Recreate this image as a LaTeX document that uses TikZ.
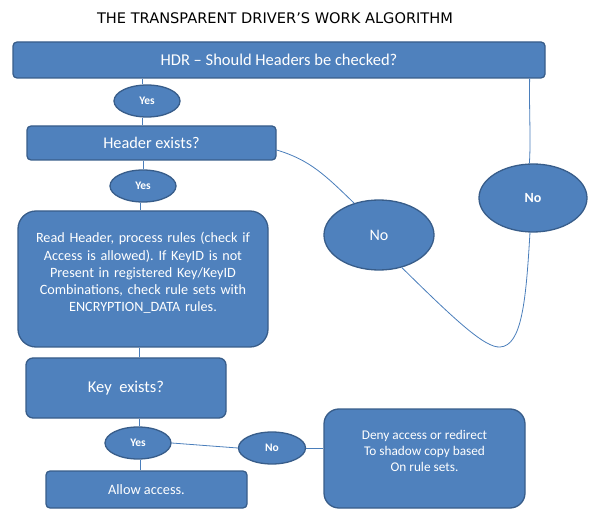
\documentclass[tikz,border=0pt]{standalone}
\usepackage{fontspec}
\setmainfont{Carlito}
\newfontfamily\titlefont{DejaVu Sans}
\usetikzlibrary{shapes.geometric,calc}
\definecolor{boxfill}{HTML}{4F81BD}
\definecolor{boxedge}{HTML}{385D8A}
\definecolor{linkblue}{HTML}{4A7EBB}
\tikzset{
  box/.style={draw=boxedge, line width=1.3pt, fill=boxfill, rounded corners=4pt, text=white, align=center, inner sep=0pt},
  oval/.style={draw=boxedge, line width=1.3pt, fill=boxfill, ellipse, text=white, inner sep=0pt},
  link/.style={draw=linkblue, line width=0.8pt}
}
\frenchspacing
\begin{document}
\begin{tikzpicture}[x=1pt,y=-1pt]
\useasboundingbox (0,0) rectangle (600,529);
\node[font=\titlefont\fontsize{14.6}{16}\selectfont] (title) at (275,18) {THE TRANSPARENT DRIVER’S WORK ALGORITHM};
\node[box, minimum width=532pt, minimum height=36pt, font=\fontsize{16.5}{19}\selectfont] (hdr) at (279,60) {HDR – Should Headers be checked?};
\node[oval, minimum width=66pt, minimum height=32pt, font=\fontsize{11.5}{13}\selectfont\bfseries] (yes1) at (147,101) {Yes};
\node[box, minimum width=249pt, minimum height=34pt, font=\fontsize{16.3}{19}\selectfont] (hdrex) at (151.5,143) {Header exists?};
\node[oval, minimum width=66pt, minimum height=32pt, font=\fontsize{11.5}{13}\selectfont\bfseries] (yes2) at (143,186) {Yes};
\node[box, rounded corners=18pt, minimum width=250pt, minimum height=136pt, text width=245pt, font=\fontsize{14.2}{17.2}\selectfont] (read) at (143,279) {Read Header, process rules (check if\\Access is allowed). If KeyID is not\\Present in registered Key/KeyID\\Combinations, check rule sets with\\ENCRYPTION\_DATA rules.\par\vspace{12pt}};
\node[box, rounded corners=7pt, minimum width=200pt, minimum height=60pt, font=\fontsize{16.5}{19}\selectfont] (key) at (126,388) {Key\ \ exists?};
\node[oval, minimum width=66pt, minimum height=32pt, font=\fontsize{11.5}{13}\selectfont\bfseries] (yes3) at (138,443) {Yes};
\node[oval, minimum width=67pt, minimum height=32pt, font=\fontsize{11.5}{13}\selectfont\bfseries] (no3) at (272,448) {No};
\node[box, minimum width=201pt, minimum height=37pt, font=\fontsize{14.3}{17}\selectfont] (allow) at (146.5,489.5) {Allow access.};
\node[box, rounded corners=15pt, minimum width=201pt, minimum height=99pt, font=\fontsize{13.3}{16}\selectfont] (deny) at (424.5,458.5) {Deny access or redirect\\To shadow copy based\\On rule sets.\\[-1pt]};
\node[oval, minimum width=108pt, minimum height=68pt, font=\fontsize{14}{17}\selectfont\bfseries] (no1) at (533,198) {No};
\node[oval, minimum width=110pt, minimum height=70pt, font=\fontsize{16}{19}\selectfont] (no2) at (379,235) {No};
% connectors
\path[link] (yes1.north -| 142,0) -- (hdr.south -| 142,0);
\path[link] (yes1.south -| 142,0) -- (hdrex.north -| 142,0);
\path[link] (yes2.north) -- (hdrex.south -| yes2.north);
\path[link] (yes2.south -| 140,0) -- (read.north -| 140,0);
\path[link] (read.south -| 139,0) -- (key.north -| 139,0);
\path[link] (yes3.north -| 139,0) -- (key.south -| 139,0);
\path[link] (yes3.south -| 140,0) -- (allow.north -| 140,0);
\path[link] (yes3.east) -- (no3.west);
\path[link] (no3.east) -- (deny.west |- no3.east);
\path[link] (no1.96) .. controls (531,140) and (529,110) .. ($(hdr.south east)+(-16,0)$);
\path[link] ([yshift=-7pt]hdrex.east) .. controls (310,160) and (325,175) .. (no2.128);
\path[link] (no2.-55) .. controls (455,320) and (485,348) .. (500,347) .. controls (522,346) and (526,300) .. (no1.-95);
\end{tikzpicture}
\end{document}
